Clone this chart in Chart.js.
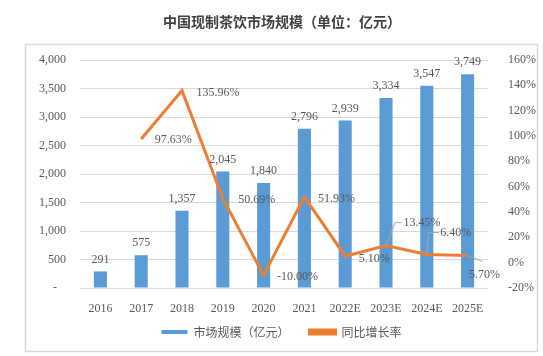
<!DOCTYPE html>
<html><head><meta charset="utf-8">
<script src="https://cdn.jsdelivr.net/npm/chart.js@4"></script>
<style>html,body{margin:0;padding:0;background:#fff}#w{width:543px;height:356px;position:relative}</style>
</head><body><div id="w"><canvas id="c"></canvas></div>
<script>
const categories = ['2016','2017','2018','2019','2020','2021','2022E','2023E','2024E','2025E'];
const marketSize = [291,575,1357,2045,1840,2796,2939,3334,3547,3749];
const growthRate = [null,97.63,135.96,50.69,-10.00,51.93,5.10,13.45,6.40,5.70];
const leftTicks = [0,500,1000,1500,2000,2500,3000,3500,4000];
const rightTicks = [-20,0,20,40,60,80,100,120,140,160];
const titleText = '中国现制茶饮市场规模（单位：亿元）';
const seriesNames = ['市场规模（亿元）','同比增长率'];

// label placement styles for the growth-rate labels: [dx, dy, leader]
const rateLabelStyle = [null,[32,1,0],[36,2,0],[34,1,0],[34,2,0],[32,2,0],[29,3,0],[36,-23,1],[29,-22,2],[17,19,3]];

const serif = '"Liberation Serif","Times New Roman",serif';
const cjk = '"Noto Sans CJK SC","Noto Sans",sans-serif';
const gray = '#595959';

const decor = {
  id:'decor',
  beforeDraw(chart){
    const ctx = chart.ctx;
    ctx.save();
    ctx.strokeStyle = '#D9D9D9'; ctx.lineWidth = 1.5;
    ctx.strokeRect(25.5, 44.5, 512, 307);
    ctx.fillStyle = '#404040';
    ctx.font = 'bold 14px ' + cjk;
    ctx.textAlign = 'center'; ctx.textBaseline = 'middle';
    ctx.fillText(titleText, 282, 22);
    ctx.restore();
  },
  afterDatasetsDraw(chart){
    const ctx = chart.ctx;
    ctx.save();
    ctx.font = '12px ' + serif;
    ctx.fillStyle = gray; ctx.textAlign = 'center'; ctx.textBaseline = 'middle';
    const bm = chart.getDatasetMeta(0);
    bm.data.forEach((el,i)=>{
      ctx.fillText(marketSize[i].toLocaleString('en-US'), el.x, el.y - 12);
    });
    const lm = chart.getDatasetMeta(1);
    lm.data.forEach((el,i)=>{
      const v = growthRate[i]; const s = rateLabelStyle[i];
      if (v === null || !s) return;
      const tx = el.x + s[0], ty = el.y + s[1];
      if (s[2]) {
        ctx.strokeStyle = '#A6A6A6'; ctx.lineWidth = 1;
        ctx.beginPath();
        if (s[2] === 1) { ctx.moveTo(el.x, el.y); ctx.lineTo(el.x+9, ty); ctx.lineTo(el.x+16, ty); }
        else if (s[2] === 2) { ctx.moveTo(el.x, el.y); ctx.lineTo(el.x+2, ty); ctx.lineTo(el.x+12, ty); }
        else { ctx.moveTo(el.x, el.y); ctx.lineTo(el.x+15, el.y+6); }
        ctx.stroke();
      }
      ctx.fillText(v.toFixed(2) + '%', tx, ty);
    });
    ctx.restore();
  }
};

new Chart(document.getElementById('c'), {
  data: {
    labels: categories,
    datasets: [
      { type:'bar', label: seriesNames[0], data: marketSize, backgroundColor:'#5B9BD5', borderWidth:0,
        yAxisID:'y', barPercentage:0.64, categoryPercentage:0.5, order:2 },
      { type:'line', label: seriesNames[1], data: growthRate, borderColor:'#ED7D31', backgroundColor:'#ED7D31',
        borderWidth:3, pointRadius:0, tension:0, yAxisID:'y1', order:1 }
    ]
  },
  options: {
    responsive:true, maintainAspectRatio:false, animation:false,
    layout:{ padding:{ top:60, left:25, right:5, bottom:8 } },
    plugins:{
      legend:{ position:'bottom', labels:{ boxWidth:26, boxHeight:4, padding:12, color:gray,
        font:{ size:12, family:cjk }, sort:(a,b)=>a.datasetIndex-b.datasetIndex,
        generateLabels(chart){
          const items = Chart.defaults.plugins.legend.labels.generateLabels(chart);
          items.forEach(it=>{ if (it.datasetIndex === 0) it.text = it.text + '   '; });
          return items;
        } } },
      tooltip:{ enabled:false }
    },
    scales:{
      x:{ grid:{ display:false }, border:{ display:false },
        ticks:{ color:gray, font:{ size:12, family:serif }, padding:6, maxRotation:0, autoSkip:false },
        afterFit(s){ s.height = 26; } },
      y:{ position:'left', min:0, max:4000,
        afterBuildTicks(s){ s.ticks = leftTicks.map(v=>({value:v})); },
        grid:{ color:'#D9D9D9', lineWidth:1, drawTicks:false }, border:{ display:false },
        ticks:{ color:gray, font:{ size:12, family:serif }, padding:14,
          callback:(v)=> v===0 ? '-   ' : Number(v).toLocaleString('en-US') },
        afterFit(s){ s.width = 55; } },
      y1:{ position:'right', min:-20, max:160,
        afterBuildTicks(s){ s.ticks = rightTicks.map(v=>({value:v})); },
        grid:{ display:false }, border:{ display:false },
        ticks:{ color:gray, font:{ size:12, family:serif }, padding:12, callback:(v)=> v + '%' },
        afterFit(s){ s.width = 50; } }
    }
  },
  plugins:[decor]
});
</script></body></html>
